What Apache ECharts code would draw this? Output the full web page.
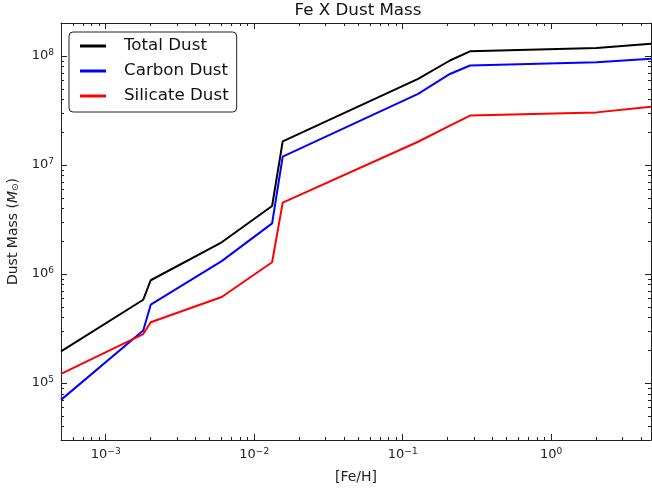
<!DOCTYPE html>
<html>
<head>
<meta charset="utf-8">
<script src="https://cdn.jsdelivr.net/npm/echarts@6/dist/echarts.min.js"></script>
<style>
  html, body { margin: 0; padding: 0; background: #fff; }
  #main { width: 652px; height: 488px; }
</style>
</head>
<body>
<div id="main"></div>
<script>
// [Fe/H] sample points and dust masses (M_sun)
var feH = [5e-4, 1.79e-3, 2.01e-3, 6.04e-3, 1.32e-2, 1.556e-2, 0.127, 0.208, 0.284, 2.02, 4.7];
var totalDust = [1.95e5, 5.8e5, 8.75e5, 1.95e6, 4.2e6, 1.64e7, 6.14e7, 9.06e7, 1.10e8, 1.18e8, 1.29e8];
var carbonDust = [7.0e4, 3.03e5, 5.22e5, 1.31e6, 2.91e6, 1.19e7, 4.47e7, 6.82e7, 8.15e7, 8.75e7, 9.38e7];
var silicateDust = [1.21e5, 2.81e5, 3.60e5, 6.15e5, 1.28e6, 4.51e6, 1.63e7, 2.29e7, 2.83e7, 3.03e7, 3.42e7];
var seriesNames = ['Total Dust', 'Carbon Dust', 'Silicate Dust'];
var seriesColors = ['#000000', '#0000ff', '#ff0000'];

var xMin = 5e-4, xMax = 4.7;
var yMin = 3e4, yMax = 2e8;

var font = 'DejaVu Sans';
var majorLen = 6, minorLen = 3;

function pairs(ys) {
    var out = [];
    for (var i = 0; i < feH.length; i++) out.push([feH[i], ys[i]]);
    return out;
}

// 10^n labels, only on whole decades
function powLabel(v) {
    var e = Math.log10(v);
    var r = Math.round(e);
    if (Math.abs(e - r) > 1e-6) return '';
    return '{b|10}{s|' + String(r).replace('-', '\u2212') + '}';
}
var labelRich = {
    b: { fontFamily: font, fontSize: 13, color: '#222' },
    s: { fontFamily: font, fontSize: 9, color: '#222', padding: [0, 0, 7, 0] }
};

function logAxis(kind, pos, showLabel, min, max) {
    var ax = {
        type: 'log',
        logBase: 10,
        position: pos,
        min: min,
        max: max,
        splitLine: { show: false },
        axisLine: { show: true, lineStyle: { color: '#222', width: 1 } },
        axisTick: { show: true, inside: true, length: majorLen, lineStyle: { color: '#222' } },
        axisLabel: {
            show: showLabel,
            margin: 7,
            formatter: powLabel,
            rich: labelRich,
            showMinLabel: false,
            showMaxLabel: false
        }
    };
    return ax;
}

var xBottom = logAxis('x', 'bottom', true, xMin, xMax);
xBottom.name = '[Fe/H]';
xBottom.nameLocation = 'middle';
xBottom.nameGap = 30;
xBottom.nameTextStyle = { fontFamily: font, fontSize: 14, color: '#222' };

var yLeft = logAxis('y', 'left', true, yMin, yMax);
yLeft.name = '{n|Dust Mass (}{i|M}{o|\u2299}{n|)}';
yLeft.nameLocation = 'middle';
yLeft.nameGap = 39;
yLeft.nameTextStyle = {
    rich: {
        n: { fontFamily: font, fontSize: 14, color: '#222' },
        i: { fontFamily: font, fontSize: 14, fontStyle: 'italic', color: '#222' },
        o: { fontFamily: font, fontSize: 9, color: '#222', padding: [4, 0, 0, 0] }
    }
};

var chart = echarts.init(document.getElementById('main'), null, { renderer: 'canvas' });

var option = {
    animation: false,
    backgroundColor: '#fff',
    title: {
        text: 'Fe X Dust Mass',
        left: 358,
        textAlign: 'center',
        top: 2,
        padding: 0,
        textStyle: { fontFamily: font, fontSize: 16.7, fontWeight: 'normal', color: '#111' }
    },
    grid: { left: 61, right: 1, top: 23, bottom: 48, outerBoundsMode: 'none' },
    legend: {
        orient: 'vertical',
        left: 69,
        top: 32,
        padding: [4, 8, 6, 11],
        itemGap: 5,
        itemWidth: 26,
        itemHeight: 3,
        icon: 'rect',
        borderColor: '#222',
        borderWidth: 1,
        borderRadius: 4,
        backgroundColor: '#fff',
        data: seriesNames,
        textStyle: { fontFamily: font, fontSize: 16.7, color: '#111', lineHeight: 20, padding: [0, 0, 0, 13] }
    },
    xAxis: [xBottom, logAxis('x', 'top', false, xMin, xMax)],
    yAxis: [yLeft, logAxis('y', 'right', false, yMin, yMax)],
    series: [
        { name: seriesNames[0], data: pairs(totalDust) },
        { name: seriesNames[1], data: pairs(carbonDust) },
        { name: seriesNames[2], data: pairs(silicateDust) }
    ].map(function(s, i) {
        s.type = 'line';
        s.xAxisIndex = 0;
        s.yAxisIndex = 0;
        s.showSymbol = false;
        s.symbol = 'none';
        s.color = seriesColors[i];
        s.lineStyle = { width: 2, color: seriesColors[i] };
        s.z = 2 + i;
        return s;
    })
};
chart.setOption(option);

// matplotlib-style minor ticks at 2..9 x 10^n on all four spines
function minorValues(lo, hi) {
    var vals = [];
    for (var n = Math.floor(Math.log10(lo)); n <= Math.ceil(Math.log10(hi)); n++) {
        for (var m = 2; m <= 9; m++) {
            var v = m * Math.pow(10, n);
            if (v > lo * 1.0001 && v < hi * 0.9999) vals.push(v);
        }
    }
    return vals;
}
var bl = chart.convertToPixel({ gridIndex: 0 }, [xMin, yMin]);
var tr = chart.convertToPixel({ gridIndex: 0 }, [xMax, yMax]);
var tickStyle = { stroke: '#222', lineWidth: 1 };
var ticks = [];
minorValues(xMin, xMax).forEach(function(v) {
    var px = Math.round(chart.convertToPixel({ xAxisIndex: 0 }, v)) + 0.5;
    ticks.push({ type: 'line', shape: { x1: px, y1: bl[1], x2: px, y2: bl[1] - minorLen }, style: tickStyle, silent: true });
    ticks.push({ type: 'line', shape: { x1: px, y1: tr[1], x2: px, y2: tr[1] + minorLen }, style: tickStyle, silent: true });
});
minorValues(yMin, yMax).forEach(function(v) {
    var py = Math.round(chart.convertToPixel({ yAxisIndex: 0 }, v)) + 0.5;
    ticks.push({ type: 'line', shape: { x1: bl[0], y1: py, x2: bl[0] + minorLen, y2: py }, style: tickStyle, silent: true });
    ticks.push({ type: 'line', shape: { x1: tr[0], y1: py, x2: tr[0] - minorLen, y2: py }, style: tickStyle, silent: true });
});
chart.setOption({ graphic: ticks });
</script>
</body>
</html>
